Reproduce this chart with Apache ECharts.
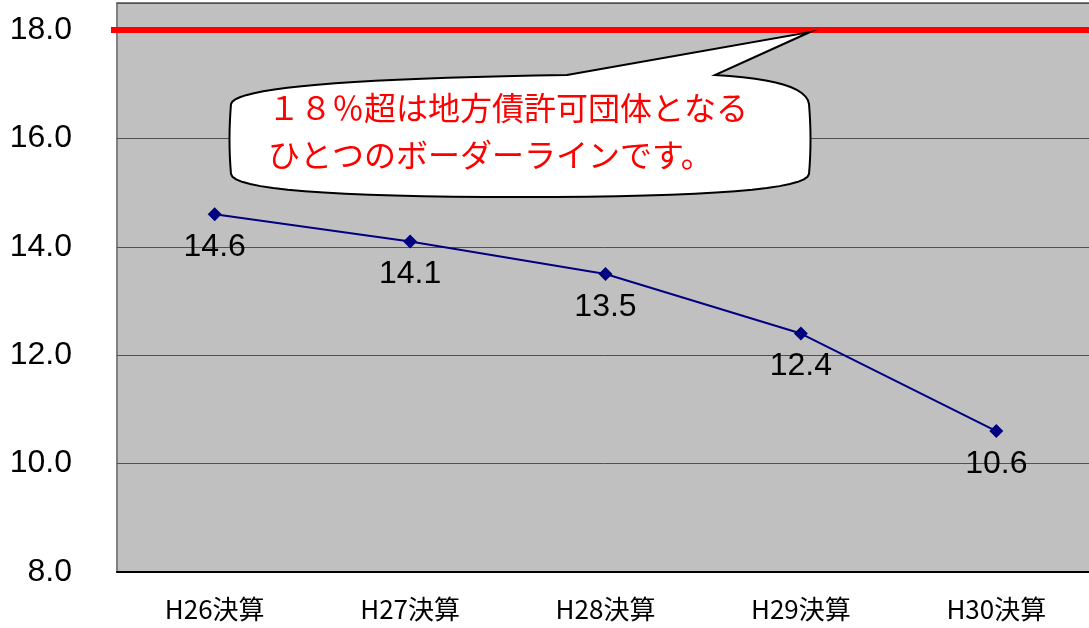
<!DOCTYPE html>
<html><head><meta charset="utf-8">
<script src="https://cdn.jsdelivr.net/npm/echarts@6/dist/echarts.min.js"></script>
<style>html,body{margin:0;padding:0;background:#fff}#c{width:1089px;height:628px}</style>
</head><body><div id="c"></div>
<script>
const categories = ['H26決算','H27決算','H28決算','H29決算','H30決算'];
const values = [14.6, 14.1, 13.5, 12.4, 10.6];
const yTicks = [8, 10, 12, 14, 16, 18];
const borderLine = 18.0;
const noteLines = ['１８％超は地方債許可団体となる','ひとつのボーダーラインです。'];

// callout outline (pixel annotation shape)
function quad(p0, c, p1, n) {
  const pts = [];
  for (let i = 1; i <= n; i++) {
    const t = i / n, u = 1 - t;
    pts.push([u*u*p0[0] + 2*u*t*c[0] + t*t*p1[0], u*u*p0[1] + 2*u*t*c[1] + t*t*p1[1]]);
  }
  return pts;
}
const bubble = [[231,104]]
  .concat(quad([231,104],[236,80],[567,75],20))
  .concat([[810,32],[715,75]])
  .concat(quad([715,75],[806,80],[809,104],12))
  .concat(quad([809,104],[812,140],[809,174],8))
  .concat(quad([809,174],[806,197],[520,197],16))
  .concat(quad([520,197],[234,197],[231,174],16))
  .concat(quad([231,174],[228,140],[231,104],8));

const chart = echarts.init(document.getElementById('c'));
const numFont = 'Liberation Sans, Arial, sans-serif';
const option = {
  animation: false,
  backgroundColor: '#ffffff',
  grid: {left: 117, top: 3, right: -5, bottom: 56, show: true, containLabel: false, outerBoundsMode: 'none',
    backgroundColor: '#c0c0c0', borderColor: '#808080', borderWidth: 2},
  xAxis: {
    type: 'category', data: categories, boundaryGap: true,
    axisLine: {lineStyle: {color: '#000', width: 2}},
    axisTick: {show: false},
    axisLabel: {color: '#000', fontSize: 26, margin: 24, fontFamily: 'Noto Sans CJK JP, sans-serif'}
  },
  yAxis: {
    type: 'value', min: 8, max: 18.5, interval: 2,
    axisLine: {show: false}, axisTick: {show: false},
    splitLine: {lineStyle: {color: '#505050', width: 1}},
    axisLabel: {color: '#000', fontSize: 32, margin: 45, fontFamily: numFont,
      formatter: v => yTicks.indexOf(v) >= 0 ? v.toFixed(1) : ''}
  },
  series: [{
    type: 'line', data: values,
    symbol: 'diamond', symbolSize: 14,
    lineStyle: {color: '#000080', width: 2},
    itemStyle: {color: '#000080'},
    label: {show: true, position: 'bottom', distance: 10, color: '#000', fontSize: 32, fontFamily: numFont,
      formatter: p => p.value.toFixed(1)}
  }],
  graphic: []
};
chart.setOption(option);
const yLine = chart.convertToPixel({yAxisIndex: 0}, borderLine);
chart.setOption({
  graphic: [{
    type: 'line', z: 90,
    shape: {x1: 111, y1: yLine, x2: 1089, y2: yLine},
    style: {stroke: '#ff0000', lineWidth: 6}
  },{
    type: 'polygon', z: 100,
    shape: {points: bubble},
    style: {fill: '#ffffff', stroke: '#000', lineWidth: 2}
  },{
    type: 'text', z: 101, left: 268, top: 84,
    style: {text: noteLines.join('\n'), fill: '#ff0000', fontSize: 32, lineHeight: 47, fontFamily: 'Noto Sans CJK JP, sans-serif'}
  }]
});
</script></body></html>
